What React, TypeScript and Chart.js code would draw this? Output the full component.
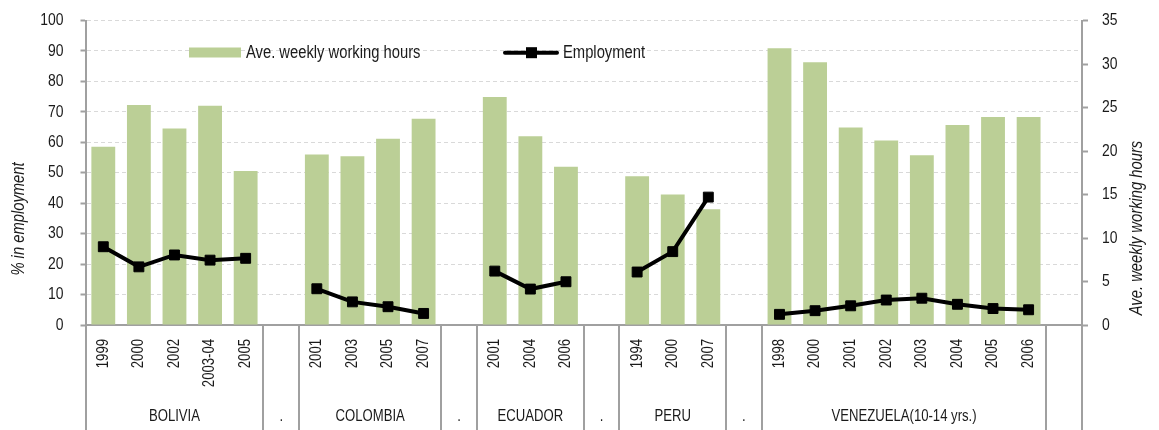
import React, { useEffect, useRef } from "react";
import { Chart, registerables } from "chart.js";

Chart.register(...registerables);

// ---- data ----
const yearLabels = [
  "1999", "2000", "2002", "2003-04", "2005", "",
  "2001", "2003", "2005", "2007", "",
  "2001", "2004", "2006", "",
  "1994", "2000", "2007", "",
  "1998", "2000", "2001", "2002", "2003", "2004", "2005", "2006", "",
];
const groupLabels = ["BOLIVIA", ".", "COLOMBIA", ".", "ECUADOR", ".", "PERU", ".", "VENEZUELA(10-14 yrs.)", ""];
const groupSizes = [5, 1, 4, 1, 3, 1, 3, 1, 8, 1];

// Ave. weekly working hours (right axis)
const hours = [
  20.5, 25.3, 22.6, 25.2, 17.7, null,
  19.6, 19.4, 21.4, 23.7, null,
  26.2, 21.7, 18.2, null,
  17.1, 15.0, 13.3, null,
  31.8, 30.2, 22.7, 21.2, 19.5, 23.0, 23.9, 23.9, null,
];
// % in employment (left axis)
const employment = [
  25.7, 19.1, 23.0, 21.3, 21.9, null,
  11.9, 7.6, 6.0, 3.8, null,
  17.7, 11.8, 14.2, null,
  17.4, 24.1, 42.0, null,
  3.5, 4.7, 6.3, 8.2, 8.8, 6.8, 5.4, 5.0, null,
];

const leftTicks = [0, 10, 20, 30, 40, 50, 60, 70, 80, 90, 100];
const rightTicks = [0, 5, 10, 15, 20, 25, 30, 35];

const FONT = '"Liberation Sans", Arial, sans-serif';
const NARROW = 0.82;
const BAR_COLOR = "#BBCF96";
const AXIS_COLOR = "#A0A0A0";
const TEXT_COLOR = "#1a1a1a";

function narrowText(
  ctx: CanvasRenderingContext2D,
  text: string,
  x: number,
  y: number,
  font: string,
  align: CanvasTextAlign,
  rotate = 0
) {
  ctx.save();
  ctx.font = font;
  ctx.textAlign = align;
  ctx.textBaseline = "middle";
  ctx.fillStyle = TEXT_COLOR;
  ctx.translate(x, y);
  if (rotate) ctx.rotate(rotate);
  ctx.scale(NARROW, 1);
  ctx.fillText(text, 0, 0);
  ctx.restore();
}

const customPlugin = {
  id: "customAxes",
  afterDraw(chart: any) {
    const { ctx, chartArea, scales } = chart;
    const xs = scales.x;
    const n = yearLabels.length;
    const step = (chartArea.right - chartArea.left) / n;
    const bottom = chart.height;
    ctx.save();

    // vertical separators between groups
    ctx.strokeStyle = AXIS_COLOR;
    ctx.lineWidth = 2;
    let idx = 0;
    const bounds: number[] = [0];
    groupSizes.forEach((s) => {
      idx += s;
      bounds.push(idx);
    });
    bounds.forEach((b) => {
      const px = Math.round(chartArea.left + b * step);
      ctx.beginPath();
      ctx.moveTo(px, chartArea.bottom);
      ctx.lineTo(px, bottom);
      ctx.stroke();
    });

    // y tick labels
    leftTicks.forEach((v) => {
      narrowText(ctx, String(v), 63.5, scales.y.getPixelForValue(v), `17px ${FONT}`, "right");
    });
    rightTicks.forEach((v) => {
      narrowText(ctx, String(v), 1102, scales.y1.getPixelForValue(v), `17px ${FONT}`, "left");
    });

    // year labels (rotated)
    yearLabels.forEach((lab, i) => {
      if (!lab) return;
      const cx = xs.getPixelForValue(i);
      narrowText(ctx, lab, cx, chartArea.bottom + 14, `16px ${FONT}`, "right", -Math.PI / 2);
    });

    // group labels
    let start = 0;
    groupLabels.forEach((g, gi) => {
      const s = groupSizes[gi];
      const cx = chartArea.left + (start + s / 2) * step;
      if (g) narrowText(ctx, g, cx, 417, `16px ${FONT}`, "center");
      start += s;
    });

    // axis titles
    narrowText(ctx, "% in employment", 19, 219, `italic 18px ${FONT}`, "center", -Math.PI / 2);
    narrowText(ctx, "Ave. weekly working hours", 1137, 228, `italic 18px ${FONT}`, "center", -Math.PI / 2);

    // legend
    ctx.fillStyle = BAR_COLOR;
    ctx.fillRect(189, 47.5, 52, 10);
    narrowText(ctx, chart.data.datasets[0].label, 246, 53, `18px ${FONT}`, "left");
    ctx.strokeStyle = "#000";
    ctx.lineWidth = 4;
    ctx.lineCap = "round";
    ctx.beginPath();
    ctx.moveTo(505, 52.7);
    ctx.lineTo(557, 52.7);
    ctx.stroke();
    ctx.fillStyle = "#000";
    ctx.fillRect(526, 47.2, 11, 11);
    narrowText(ctx, chart.data.datasets[1].label, 563, 53, `18px ${FONT}`, "left");
    ctx.restore();
  },
};

export default function App() {
  const ref = useRef<HTMLCanvasElement | null>(null);
  useEffect(() => {
    document.body.style.margin = "0";
    if (!ref.current) return;
    const chart = new Chart(ref.current, {
      type: "bar",
      data: {
        labels: yearLabels,
        datasets: [
          {
            type: "bar",
            label: "Ave. weekly working hours",
            data: hours,
            yAxisID: "y1",
            backgroundColor: BAR_COLOR,
            barPercentage: 0.67,
            categoryPercentage: 1,
            order: 2,
          },
          {
            type: "line",
            label: "Employment",
            data: employment,
            yAxisID: "y",
            borderColor: "#000",
            borderWidth: 4,
            backgroundColor: "#000",
            pointStyle: "rect",
            pointRadius: 7,
            pointBorderWidth: 1,
            pointBackgroundColor: "#000",
            pointBorderColor: "#000",
            spanGaps: false,
            tension: 0,
            order: 1,
          } as any,
        ],
      },
      options: {
        animation: false,
        responsive: false,
        events: [],
        layout: { padding: { top: 20.5, left: 0, right: 0, bottom: 0 } },
        plugins: {
          legend: { display: false },
          tooltip: { enabled: false },
        },
        scales: {
          x: {
            type: "category",
            offset: true,
            grid: { display: false },
            ticks: { display: false },
            border: { display: true, color: AXIS_COLOR, width: 2 },
            afterFit: (s: any) => {
              s.height = 105;
            },
          },
          y: {
            position: "left",
            min: 0,
            max: 100,
            ticks: { stepSize: 10, display: false },
            grid: {
              color: "#D9D9D9",
              lineWidth: 1,
              tickColor: AXIS_COLOR,
              tickLength: 5,
              tickWidth: 2,
              tickBorderDash: [],
            },
            border: { display: true, color: AXIS_COLOR, width: 2, dash: [4, 3] },
            afterFit: (s: any) => {
              s.width = 85.5;
            },
          },
          y1: {
            position: "right",
            min: 0,
            max: 35,
            ticks: { stepSize: 5, display: false },
            grid: {
              drawOnChartArea: false,
              tickColor: AXIS_COLOR,
              tickLength: 6,
              tickWidth: 2,
            },
            border: { display: true, color: AXIS_COLOR, width: 2 },
            afterFit: (s: any) => {
              s.width = 77;
            },
          },
        },
      },
      plugins: [customPlugin],
    });
    return () => chart.destroy();
  }, []);

  return (
    <div style={{ position: "fixed", left: 0, top: 0, width: 1159, height: 430, background: "#fff" }}>
      <canvas ref={ref} width={1159} height={430} style={{ width: 1159, height: 430 }} />
    </div>
  );
}
